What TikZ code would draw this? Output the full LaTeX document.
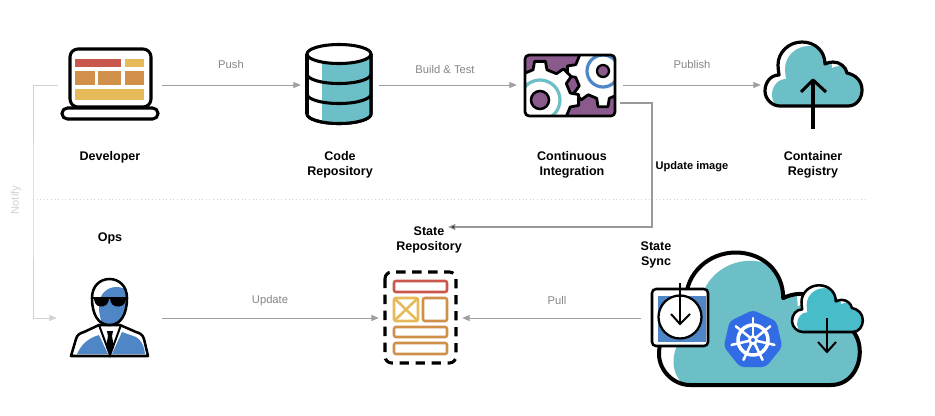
\documentclass[tikz,border=0pt]{standalone}
\usepackage{fontspec}
\setmainfont{Liberation Sans}
\usetikzlibrary{arrows.meta}
\definecolor{tealfill}{HTML}{6CBFC6}
\definecolor{skyfill}{HTML}{48BCC9}
\definecolor{gearpurple}{HTML}{8A5A8C}
\definecolor{barred}{HTML}{C9574C}
\definecolor{barorange}{HTML}{D1904A}
\definecolor{baryellow}{HTML}{E6BA58}
\definecolor{opsblue}{HTML}{4F86C6}
\definecolor{wheelblue}{HTML}{326CE5}
\newcommand{\cloudoutline}{(15,0)--(83,0)..controls(92,0)and(97,-8)..(97,-16)..controls(97,-25)and(91,-31)..(82,-33)..controls(81,-39)and(75,-44)..(68,-44)..controls(65,-44)and(62,-43)..(60,-42)..controls(60,-55)and(50,-64)..(37,-64)..controls(24,-64)and(13,-54)..(13,-41)..controls(13,-38)and(13.5,-35)..(14,-31)..controls(6,-31)and(0,-24)..(0,-15)..controls(0,-7)and(7,0)..(15,0)--cycle}
\newcommand{\headoutline}{(92,298)..controls(92,286)and(100,279)..(109.5,279)..controls(119,279)and(127,286)..(127,298)..controls(127,314)and(121,325)..(109.5,325)..controls(98,325)and(92,314)..(92,298)--cycle}
\def\px{0.75pt}
\tikzset{
    iconbox/.style={minimum width=#1*\px,minimum height=10*\px,inner sep=0pt},
    flow/.style={draw=gray!75,line width=.65pt,-{Triangle[length=5.5pt,width=4.5pt]}},
    faint/.style={draw=gray!35,line width=.65pt,-{Triangle[length=5.5pt,width=4.5pt]}},
    imageflow/.style={draw=gray!80,line width=.8pt,-{Triangle[length=5.5pt,width=4.5pt,fill=black!80]}},
    stepname/.style={font=\fontsize{9.4}{11.25}\selectfont\bfseries,align=center,inner sep=0pt},
    flowname/.style={font=\fontsize{8.4}{10}\selectfont,text=gray!95,inner sep=0pt},
    outline/.style={draw=black,line width=2.3pt,line join=round},
    barbox/.style={draw=#1,line width=1.9pt,rounded corners=1.5pt},
    pics/cloudicon/.style={code={
        \fill[white]\cloudoutline;
        \begin{scope}
            \clip\cloudoutline;
            \fill[#1,shift={(7,4)}]\cloudoutline;
        \end{scope}
        \draw[line join=round]\cloudoutline;
    }},
    pics/gearwheel/.style 2 args={code={
        \filldraw[fill=white,draw=black,line width=2.1pt,line join=round](-13:#1)\foreach \a in {0,45,...,315}{--({\a-13}:#1)--({\a-8}:#2)--({\a+8}:#2)--({\a+13}:#1)}--cycle;
    }}
}
\begin{document}
\begin{tikzpicture}[x=\px,y=-\px]
    \useasboundingbox(0,0)rectangle(935,415);
    \fill[white](0,0)rectangle(935,415);
    \coordinate (sepleft) at (33,199);
    \coordinate (sepright) at (868,199);
    \coordinate (citap) at (620,103);
    \coordinate (imageturn) at (652,165);
    \coordinate (imagetip) at (448,227);
    \node[iconbox=104] (developer) at (110,85) {};
    \node[iconbox=78] (coderepo) at (340,85) {};
    \node[iconbox=106] (ci) at (570,85) {};
    \node[iconbox=107] (registry) at (814.5,85) {};
    \node[iconbox=105] (ops) at (109.5,318) {};
    \node[iconbox=83] (staterepo) at (420.5,318) {};
    \node[iconbox=227] (statesync) at (754.5,318) {};
    \node[iconbox=1] (notifyturn) at (33,200) {};
    \draw[gray!35,dotted,line width=.7pt](sepleft)--(sepright);
    \draw[flow](developer.east)--(coderepo.west);
    \draw[flow](coderepo.east)--(ci.west);
    \draw[flow](ci.east)--(registry.west);
    \draw[flow](ops.east)--(staterepo.west);
    \draw[flow](statesync.west)--(staterepo.east);
    \draw[faint](developer.west)-|(notifyturn.center)|-(ops.west);
    \draw[imageflow](citap)-|(imageturn)|-(imagetip);
    \node[flowname] (pushlabel) at (231,64) {Push};
    \node[flowname] (buildlabel) at (445,69) {Build \& Test};
    \node[flowname] (publishlabel) at (692,64) {Publish};
    \node[flowname] (updatelabel) at (270,301) {Update};
    \node[flowname] (pulllabel) at (557,300) {Pull};
    \node[flowname,text=gray!35,rotate=90] (notifylabel) at (16,200) {Notify};
    \node[stepname,font=\fontsize{8.3}{10}\selectfont\bfseries] (imagelabel) at (692,167) {Update image};
    \node[stepname] (developerlabel) at (110,157) {Developer};
    \node[stepname] (codelabel) at (340,165) {Code\\Repository};
    \node[stepname] (cilabel) at (572,165) {Continuous\\Integration};
    \node[stepname] (registrylabel) at (813,165) {Container\\Registry};
    \node[stepname] (opslabel) at (110,238) {Ops};
    \node[stepname] (staterepolabel) at (429,239.5) {State\\Repository};
    \node[stepname] (synclabel) at (656,254.5) {State\\Sync};

    \filldraw[outline,fill=white,rounded corners=6pt](70,49)rectangle(151,107);
    \filldraw[outline,fill=white,rounded corners=4pt](62,108)rectangle(158,119);
    \fill[barred](75,59)rectangle(121,67);
    \fill[baryellow](125,59)rectangle(144,67);
    \fill[barorange](75,71)rectangle(95,85);
    \fill[barorange](98,71)rectangle(121,85);
    \fill[barorange](125,71)rectangle(144,85);
    \fill[baryellow](75,89)rectangle(144,100);

    \filldraw[outline,fill=white](307,54)--(307,114)arc[x radius=32,y radius=9.5,start angle=180,end angle=0]--(371,54)--cycle;
    \begin{scope}
        \clip(322,40)rectangle(375,130);
        \fill[tealfill](307,54)--(307,114)arc[x radius=32,y radius=9.5,start angle=180,end angle=0]--(371,54)--cycle;
    \end{scope}
    \filldraw[outline,fill=white](339,54)ellipse(32 and 9.5);
    \draw[outline](307,74)arc[x radius=32,y radius=9.5,start angle=180,end angle=0];
    \draw[outline](307,94)arc[x radius=32,y radius=9.5,start angle=180,end angle=0];
    \draw[outline](307,114)arc[x radius=32,y radius=9.5,start angle=180,end angle=0]--(371,54);
    \draw[outline](307,54)--(307,114);

    \begin{scope}
        \clip[rounded corners=3pt](525,55)rectangle(615,116);
        \fill[gearpurple](525,55)rectangle(615,116);
        \pic at (603,71) {gearwheel={28}{36}};
        \draw[opsblue,line width=2.4pt](603,71)circle(16);
        \filldraw[fill=gearpurple,draw=black,line width=1.7pt](603,71)circle(6);
        \pic at (540,100) {gearwheel={31}{39}};
        \draw[tealfill,line width=2.4pt](540,100)circle(20);
        \filldraw[fill=gearpurple,draw=black,line width=1.9pt](540,100)circle(9);
    \end{scope}
    \draw[outline,line width=2pt,rounded corners=3pt](525,55)rectangle(615,116);

    \pic[line width=2.4pt] at (765,106) {cloudicon=tealfill};
    \draw[outline](813,129)--(813,80);
    \draw[outline](801,92)--(813,80)--(826,92);

    \filldraw[outline,line width=1.9pt,fill=white](71,356)--(76,339)..controls(77,335)and(80,333)..(84,332)--(99,325)--(120,325)--(136,332)..controls(140,333)and(143,335)..(144,339)--(148,356)--cycle;
    \fill[opsblue](77,354)..controls(81,345)and(88,338)..(99,335)--(108,354)--cycle;
    \fill[opsblue](112,354)--(122,332)--(136,337)..controls(141,340)and(144,345)..(145,354)--cycle;
    \draw[black,line width=1.5pt](99,325)--(110,355)--(121,325);
    \fill[black](107,331)--(113,331)--(112,336)--(114,347)--(110,355)--(106,347)--(108,336)--cycle;
    \fill[white]\headoutline;
    \begin{scope}
        \clip\headoutline;
        \fill[opsblue,shift={(7,8)}]\headoutline;
    \end{scope}
    \draw[outline,line width=1.9pt]\headoutline;
    \draw[black,line width=2pt](92,298)--(127,298);
    \fill[black](94,298)--(109,298)..controls(109,304)and(105,307)..(100,306.5)..controls(96,306)and(94,302)..(94,298)--cycle;
    \fill[black](110,298)--(126,298)..controls(126,302)and(124,306)..(119,306.5)..controls(114,307)and(110,304)..(110,298)--cycle;

    \draw[outline,dash pattern=on 7pt off 5pt,rounded corners=5pt](385,272)rectangle(456,363);
    \draw[barbox=barred](394,281)rectangle(447,292);
    \draw[barbox=baryellow](394,298)rectangle(418,321);
    \draw[baryellow,line width=1.9pt](394,298)--(418,321)(418,298)--(394,321);
    \draw[barbox=barorange](423,298)rectangle(447,321);
    \draw[barbox=barorange](394,327)rectangle(447,337);
    \draw[barbox=barorange](394,343)rectangle(447,354);

    \pic[line width=3pt] at (659,385) [scale=2.07] {cloudicon=tealfill};
    \begin{scope}[shift={(753,340)}]
        \fill[wheelblue,rounded corners=3pt](-90:30)\foreach \a in {1,...,6}{--({-90+\a*360/7}:30)}--cycle;
        \draw[white,line width=2.6pt](0,0)circle(15);
        \foreach \a in {0,...,6}{
            \draw[white,line width=1.9pt,line cap=round]({-90+\a*360/7}:4)--({-90+\a*360/7}:22);
        }
        \fill[white](0,0)circle(5);
        \fill[wheelblue](0,0)circle(2);
    \end{scope}
    \pic[line width=1.9pt] at (792,332) [scale=.73] {cloudicon=skyfill};
    \draw[black,line width=1.5pt](827,318)--(827,352);
    \draw[black,line width=1.5pt](818,342)--(827,352)--(836,342);

    \filldraw[outline,line width=1.9pt,fill=white,rounded corners=3pt](652,289)rectangle(708,346);
    \fill[opsblue](658,296)rectangle(706,342);
    \filldraw[fill=white,draw=black,line width=1.7pt](680,317)circle(21.5);
    \draw[black,line width=1.5pt](680,283)--(680,324);
    \draw[black,line width=1.5pt](671,314)--(680,324)--(690,314);
\end{tikzpicture}
\end{document}
